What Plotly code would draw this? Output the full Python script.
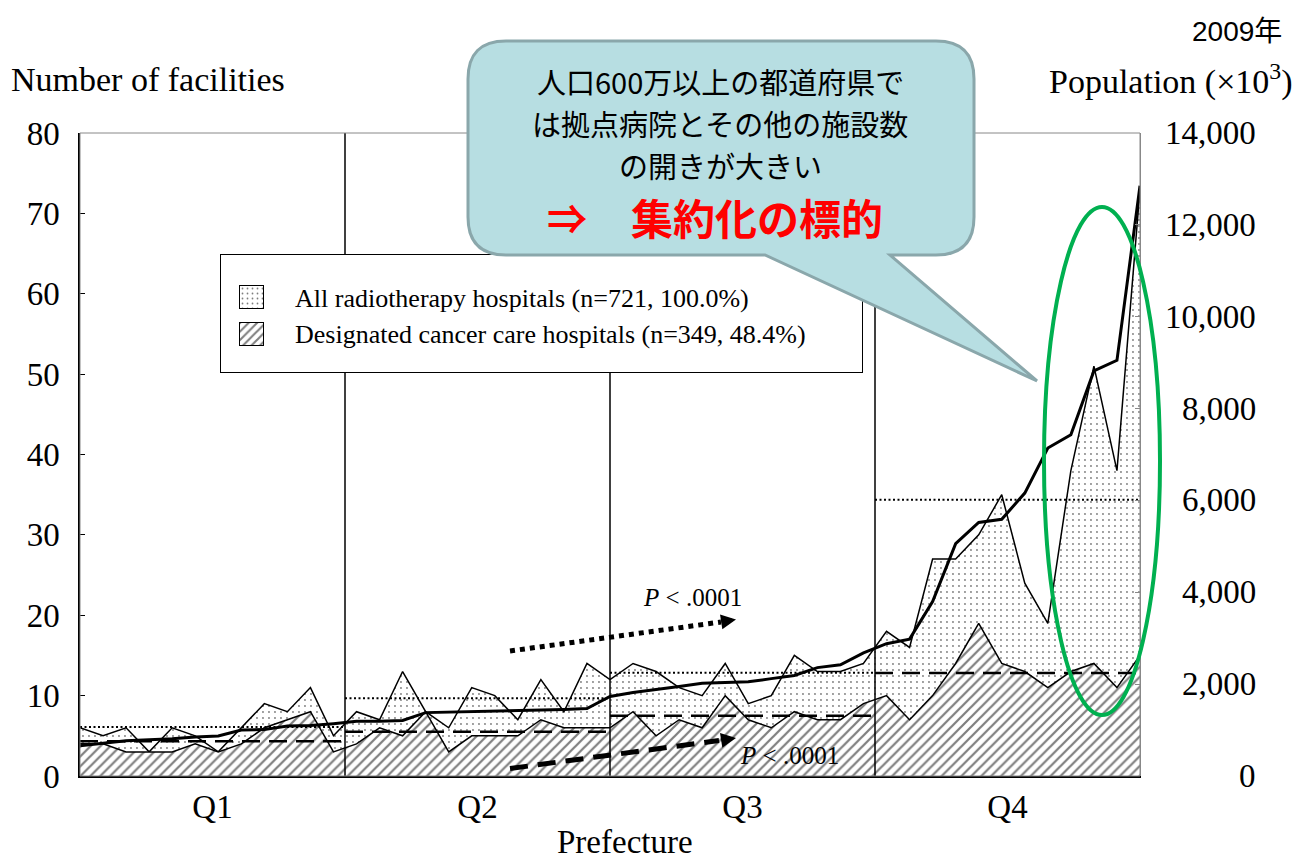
import plotly.graph_objects as go

# Prefectures ranked by population, smallest to largest (2009)
all_hospitals = [6, 5, 6, 3, 6, 5, 3, 6, 9, 8, 11, 5,
                 8, 7, 13, 8, 6, 11, 10, 7, 12, 8, 14, 12,
                 14, 13, 11, 10, 14, 9, 10, 15, 13, 13, 14, 18,
                 16, 27, 27, 30, 35, 24, 19, 38, 51, 38, 73]
designated = [4, 4, 3, 3, 3, 4, 3, 4, 6, 7, 8, 3,
              4, 6, 5, 8, 3, 5, 5, 5, 7, 6, 6, 6,
              8, 5, 7, 6, 10, 7, 6, 8, 7, 7, 9, 10,
              7, 10, 14, 19, 14, 13, 11, 13, 14, 11, 15]
population = [660, 720, 770, 790, 810, 850, 870, 1000, 1010, 1090, 1100, 1140,
              1190, 1190, 1210, 1380, 1390, 1400, 1410, 1420, 1440, 1450, 1470, 1730,
              1820, 1880, 1950, 2020, 2030, 2050, 2120, 2190, 2360, 2420, 2680, 2880,
              2980, 3800, 5060, 5520, 5590, 6160, 7140, 7430, 8820, 9050, 12850]
quartile_sizes = [12, 12, 12, 11]
quartile_names = ["Q1", "Q2", "Q3", "Q4"]
facility_ticks = [0, 10, 20, 30, 40, 50, 60, 70, 80]
population_ticks = [0, 2000, 4000, 6000, 8000, 10000, 12000, 14000]

SERIF = "Liberation Serif, Times New Roman, serif"
JP = "Noto Sans CJK JP, sans-serif"

W, H = 1297, 863
PL, PR, PT, PB = 80, 1140, 133, 776  # plot area in pixels


def px(x):
    return (x - PL) / (PR - PL)


def py(y):
    return (PB - y) / (PB - PT)


def to_data(xp, yp):
    return (xp - PL) / (PR - PL) * x_max, (PB - yp) / (PB - PT) * facility_ticks[-1]


n = len(all_hospitals)
idx = list(range(n))
x_max = n - 1
bounds = [x_max * k / 4 for k in range(5)]

# quartile means
mean_all, mean_des = [], []
start = 0
for size in quartile_sizes:
    a = all_hospitals[start:start + size]
    d = designated[start:start + size]
    mean_all.append(sum(a) / len(a))
    mean_des.append(sum(d) / len(d))
    start += size

fig = go.Figure()

fig.add_trace(go.Scatter(
    x=idx, y=all_hospitals, mode="lines",
    line=dict(color="black", width=1.5),
    fill="tozeroy", fillcolor="white",
    fillpattern=dict(shape=".", fgcolor="black", bgcolor="white", size=6, solidity=0.08),
))
fig.add_trace(go.Scatter(
    x=idx, y=designated, mode="lines",
    line=dict(color="black", width=1.5),
    fill="tozeroy", fillcolor="white",
    fillpattern=dict(shape="/", fgcolor="black", bgcolor="white", size=7, solidity=0.32),
))

# quartile dividers
vx, vy = [], []
for b in bounds[1:4]:
    vx += [b, b, None]
    vy += [0, facility_ticks[-1], None]
fig.add_trace(go.Scatter(x=vx, y=vy, mode="lines", line=dict(color="black", width=1.5)))

# quartile mean levels
ax_, ay_, dx_, dy_ = [], [], [], []
for k in range(4):
    ax_ += [bounds[k], bounds[k + 1], None]
    ay_ += [mean_all[k], mean_all[k], None]
    dx_ += [bounds[k], bounds[k + 1], None]
    dy_ += [mean_des[k], mean_des[k], None]
fig.add_trace(go.Scatter(x=ax_, y=ay_, mode="lines",
                         line=dict(color="black", width=2, dash="2px,2.5px")))
fig.add_trace(go.Scatter(x=dx_, y=dy_, mode="lines",
                         line=dict(color="black", width=2.5, dash="18px,9px")))

# trend arrow shafts
arrows = [((510, 651), (721, 622), (736, 619.5), "dot"),
          ((510, 768.5), (719, 740.5), (736, 738), "18px,10px")]
for (x0p, y0p), (x1p, y1p), _, dash in arrows:
    a0, a1 = to_data(x0p, y0p), to_data(x1p, y1p)
    fig.add_trace(go.Scatter(x=[a0[0], a1[0]], y=[a0[1], a1[1]], mode="lines",
                             line=dict(color="black", width=5, dash=dash)))

# population
fig.add_trace(go.Scatter(x=idx, y=population, mode="lines", yaxis="y2",
                         line=dict(color="black", width=3)))

# legend box and swatches
fig.add_trace(go.Bar(x=[0.5], y=[1], width=[1], xaxis="x3", yaxis="y3",
                     marker=dict(color="white", line=dict(width=0))))
fig.add_trace(go.Bar(x=[0.5], y=[1], width=[1], xaxis="x4", yaxis="y4",
                     marker=dict(color="white", line=dict(width=0),
                                 pattern=dict(shape=".", fgcolor="black", bgcolor="white",
                                              size=5, solidity=0.1))))
fig.add_trace(go.Bar(x=[0.5], y=[1], width=[1], xaxis="x5", yaxis="y5",
                     marker=dict(color="white", line=dict(width=0),
                                 pattern=dict(shape="/", fgcolor="black", bgcolor="white",
                                              size=6, solidity=0.35))))

hidden_box = dict(range=[0, 1], showgrid=False, zeroline=False, showticklabels=False,
                  ticks="", showline=True, mirror=True, linecolor="black", linewidth=1,
                  fixedrange=True)

lg_x0, lg_x1, lg_y0, lg_y1 = 221, 862, 255, 372
sw_x0, sw_x1 = 240, 263
sw1 = (286, 308)
sw2 = (323, 345)

fig.update_layout(
    width=W, height=H,
    margin=dict(l=PL, r=W - PR, t=PT, b=H - PB),
    paper_bgcolor="white", plot_bgcolor="rgba(0,0,0,0)",
    showlegend=False, bargap=0,
    xaxis=dict(range=[0, x_max], showgrid=False, zeroline=False,
               tickvals=[(bounds[k] + bounds[k + 1]) / 2 for k in range(4)],
               ticktext=quartile_names, ticks="",
               tickfont=dict(family=SERIF, size=33, color="black"),
               ticklabelstandoff=0,
               showline=True, linecolor="black", linewidth=2),
    yaxis=dict(range=[0, facility_ticks[-1]], tickvals=facility_ticks,
               showgrid=False, zeroline=False, ticks="inside", ticklen=5,
               tickcolor="black", tickwidth=1,
               tickfont=dict(family=SERIF, size=33, color="black"),
               ticklabelstandoff=12,
               showline=True, linecolor="black", linewidth=1.5),
    yaxis2=dict(range=[0, population_ticks[-1]], tickvals=population_ticks,
                overlaying="y", side="right", showgrid=False, zeroline=False,
                showticklabels=False, ticks="inside", ticklen=5, tickcolor="#888888",
                showline=True, linecolor="#888888", linewidth=1),
    xaxis3=dict(hidden_box, domain=[px(lg_x0), px(lg_x1)], anchor="y3"),
    yaxis3=dict(hidden_box, domain=[py(lg_y1), py(lg_y0)], anchor="x3"),
    xaxis4=dict(hidden_box, domain=[px(sw_x0), px(sw_x1)], anchor="y4"),
    yaxis4=dict(hidden_box, domain=[py(sw1[1]), py(sw1[0])], anchor="x4"),
    xaxis5=dict(hidden_box, domain=[px(sw_x0), px(sw_x1)], anchor="y5"),
    yaxis5=dict(hidden_box, domain=[py(sw2[1]), py(sw2[0])], anchor="x5"),
)

shapes = []
# plot frame
shapes.append(dict(type="rect", xref="paper", yref="paper", x0=0, x1=1, y0=0, y1=1,
                   line=dict(color="#888888", width=1), layer="above"))

# highlight ellipse
shapes.append(dict(type="circle", xref="paper", yref="paper",
                   x0=px(1044), x1=px(1160), y0=py(715), y1=py(207),
                   line=dict(color="#00B050", width=4)))

# speech bubble
bl, br, bt, bb, r = 468, 974, 41, 255, 38
pts = [
    ("M", [(bl + r, bt)]), ("L", [(br - r, bt)]), ("Q", [(br, bt), (br, bt + r)]),
    ("L", [(br, bb - r)]), ("Q", [(br, bb), (br - r, bb)]),
    ("L", [(890, bb)]), ("L", [(1037, 381)]), ("L", [(765, bb)]),
    ("L", [(bl + r, bb)]), ("Q", [(bl, bb), (bl, bb - r)]),
    ("L", [(bl, bt + r)]), ("Q", [(bl, bt), (bl + r, bt)]),
]
path = ""
for cmd, coords in pts:
    path += cmd + " ".join(f"{px(a):.5f},{py(b):.5f}" for a, b in coords) + " "
path += "Z"
shapes.append(dict(type="path", xref="paper", yref="paper", path=path,
                   fillcolor="#B7DEE2", line=dict(color="#8AA7AB", width=3)))
fig.update_layout(shapes=shapes)

ann = []
# right axis labels
for v in population_ticks:
    ann.append(dict(xref="paper", yref="y2", x=px(1258), y=v, xanchor="right",
                    yanchor="middle", showarrow=False, text=f"{v:,}",
                    font=dict(family=SERIF, size=33, color="black")))

ann.append(dict(xref="paper", yref="paper", x=px(9), y=py(80), xanchor="left",
                yanchor="middle", showarrow=False, text="Number of facilities",
                font=dict(family=SERIF, size=34, color="black")))
ann.append(dict(xref="paper", yref="paper", x=px(1047), y=py(80), xanchor="left",
                yanchor="middle", showarrow=False, text="Population (×10<sup>3</sup>)",
                font=dict(family=SERIF, size=34, color="black")))
ann.append(dict(xref="paper", yref="paper", x=px(1284), y=py(32), xanchor="right",
                yanchor="middle", showarrow=False, text="2009年",
                font=dict(family="Liberation Sans, " + JP, size=28, color="black")))
ann.append(dict(xref="paper", yref="paper", x=px(625), y=py(862), xanchor="center",
                yanchor="bottom", showarrow=False, text="Prefecture",
                font=dict(family=SERIF, size=33, color="black")))

# legend text
ann.append(dict(xref="paper", yref="paper", x=px(293), y=py(298), xanchor="left",
                yanchor="middle", showarrow=False,
                text="All radiotherapy hospitals (n=721, 100.0%)",
                font=dict(family=SERIF, size=26, color="black")))
ann.append(dict(xref="paper", yref="paper", x=px(293), y=py(334), xanchor="left",
                yanchor="middle", showarrow=False,
                text="Designated cancer care hospitals (n=349, 48.4%)",
                font=dict(family=SERIF, size=26, color="black")))

# arrow heads
for _, _, (tx, ty), _ in arrows:
    tip = to_data(tx, ty)
    ann.append(dict(xref="x", yref="y", x=tip[0], y=tip[1], ax=-16, ay=2.5, text="",
                    showarrow=True, arrowhead=2, arrowwidth=3, arrowsize=1,
                    arrowcolor="black"))

# significance labels
p1 = to_data(692, 597)
ann.append(dict(xref="x", yref="y", x=p1[0], y=p1[1], showarrow=False,
                text="<i>P</i> &lt; .0001", font=dict(family=SERIF, size=25, color="black")))
p2 = to_data(789, 755)
ann.append(dict(xref="x", yref="y", x=p2[0], y=p2[1], showarrow=False,
                text="<i>P</i> &lt; .0001", font=dict(family=SERIF, size=25, color="black")))

# bubble text
bubble_lines = ["人口600万以上の都道府県で", "は拠点病院とその他の施設数", "の開きが大きい"]
for line, yc in zip(bubble_lines, [81, 123, 165]):
    ann.append(dict(xref="paper", yref="paper", x=px(720), y=py(yc), xanchor="center",
                    yanchor="middle", showarrow=False, text=line,
                    font=dict(family=JP, size=29, color="black")))
ann.append(dict(xref="paper", yref="paper", x=px(567), y=py(217), xanchor="center",
                yanchor="middle", showarrow=False, text="<b>⇒</b>",
                font=dict(family=JP, size=40, color="#FF0000")))
ann.append(dict(xref="paper", yref="paper", x=px(757), y=py(217), xanchor="center",
                yanchor="middle", showarrow=False, text="<b>集約化の標的</b>",
                font=dict(family=JP, size=42, color="#FF0000")))

fig.update_layout(annotations=ann)

fig.write_html("out.html")
